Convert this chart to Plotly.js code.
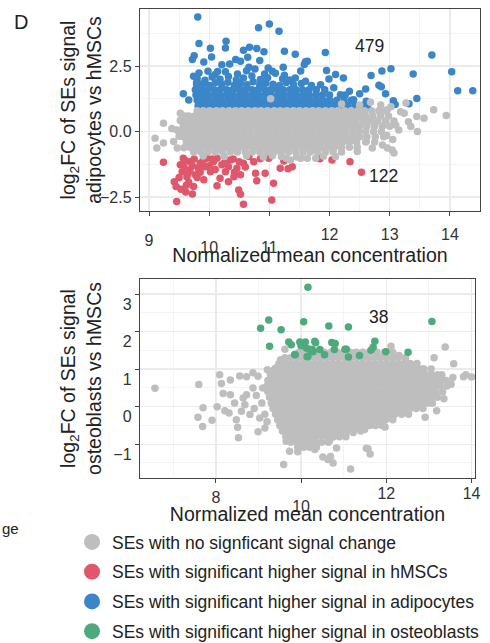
<!DOCTYPE html>
<html><head><meta charset="utf-8">
<script src="https://cdn.plot.ly/plotly-3.0.1.min.js"></script>
<style>html,body{margin:0;padding:0;background:#fff}#chart{width:490px;height:643px}</style>
</head><body><div id="chart"></div>
<script>
// ---------- Panel 1: adipocytes vs hMSCs (x = normalized mean concentration, y = log2FC) ----------
// dense rows: [y, x1, x2, ...]
const grayTopRows = [
 [0.8, 9.8,9.9,10.01,10.12,10.22,10.33,10.44,10.54,10.65,10.76,10.86,10.97,11.08,11.18,11.29,11.4,11.5,11.61,11.72,11.82,11.93,12.04,12.14,12.25,12.36,12.47,12.58,12.7,12.82,12.93],
 [0.6, 9.66,9.76,9.86,9.96,10.07,10.17,10.27,10.38,10.48,10.59,10.69,10.8,10.9,11.01,11.11,11.22,11.32,11.43,11.53,11.64,11.74,11.85,11.95,12.06,12.16,12.27,12.38,12.49,12.6,12.72,12.85,12.98],
 [0.4, 9.62,9.72,9.82,9.92,10.02,10.12,10.23,10.33,10.43,10.54,10.64,10.75,10.85,10.96,11.06,11.17,11.27,11.38,11.48,11.59,11.69,11.8,11.9,12.01,12.11,12.22,12.33,12.44,12.56,12.68,12.8,12.93,13.07],
 [0.2, 9.57,9.67,9.77,9.87,9.97,10.07,10.18,10.28,10.38,10.49,10.59,10.7,10.8,10.91,11.01,11.12,11.22,11.33,11.43,11.54,11.64,11.75,11.85,11.96,12.06,12.17,12.28,12.39,12.5,12.62,12.75,12.88,13.0],
 [0.0, 9.56,9.66,9.76,9.86,9.96,10.06,10.16,10.27,10.37,10.47,10.58,10.68,10.79,10.89,11.0,11.1,11.21,11.31,11.42,11.52,11.63,11.73,11.84,11.94,12.05,12.15,12.26,12.37,12.48,12.6,12.73,12.86],
 [-0.2, 9.57,9.67,9.77,9.87,9.97,10.08,10.18,10.28,10.39,10.49,10.6,10.7,10.81,10.91,11.02,11.12,11.23,11.33,11.44,11.54,11.65,11.75,11.86,11.96,12.07,12.17,12.28,12.39,12.5,12.62,12.76,12.9],
 [-0.4, 9.62,9.72,9.82,9.92,10.02,10.13,10.23,10.33,10.44,10.54,10.65,10.75,10.86,10.96,11.07,11.17,11.28,11.38,11.49,11.59,11.7,11.8,11.91,12.01,12.12,12.22,12.33,12.45,12.6,12.75],
 [-0.6, 9.68,9.78,9.88,9.98,10.08,10.19,10.29,10.39,10.5,10.6,10.71,10.81,10.92,11.02,11.13,11.23,11.34,11.44,11.55,11.65,11.76,11.86,11.97,12.08,12.2,12.33,12.46],
 [-0.78, 9.74,9.86,9.98,10.1,10.22,10.35,10.47,10.6,10.72,10.84,10.96,11.08,11.2,11.32,11.44,11.56,11.68,11.8,11.93,12.06,12.2]
];
const grayTopPts = [
 [9.1,-0.25],[9.13,-0.63],[9.24,-0.44],[9.24,0.32],[9.38,0.12],[9.41,-0.38],[9.46,0.06],[9.47,-0.63],[9.52,0.7],[9.5,-0.18],[9.52,0.42],[9.6,0.6],[9.58,-0.62],
 [11.02,1.25],[12.2,1.05],[12.5,1.02],[12.68,1.12],[12.85,1.02],[13.02,0.95],[13.18,0.76],[13.27,1.09],[13.24,0.7],[12.96,0.83],[13.1,0.25],[13.15,0.06],
 [13.31,0.38],[13.35,0.19],[13.46,0.0],[13.57,0.51],[13.73,0.83],[13.94,0.61],[13.45,0.58],[13.07,-0.82],[13.04,-0.7],[12.96,-0.63],[12.88,-0.51],[12.71,-0.63],
 [12.61,-0.38],[12.46,-0.76],[13.05,-0.3],[12.95,-0.15],
 [9.9,-0.93],[10.25,-0.95],[10.62,-0.92],[10.9,-0.97],[11.05,-0.92],[11.2,-0.95],[11.28,-1.02],[11.35,-1.08],[11.45,-0.97],[11.52,-1.02],[11.63,-1.02],[11.77,-1.02],[11.9,-0.94],[12.1,-0.95]
];
const blueRows = [
 [1.0, 9.82,9.92,10.03,10.14,10.24,10.35,10.46,10.56,10.67,10.78,10.88,10.99,11.1,11.2,11.31,11.42,11.52,11.63,11.74,11.84,11.95,12.06,12.17,12.3,12.42,12.55],
 [1.2, 9.8,9.9,10.0,10.11,10.21,10.32,10.42,10.53,10.63,10.74,10.84,10.95,11.05,11.16,11.26,11.37,11.47,11.58,11.68,11.79,11.89,12.0,12.12,12.24,12.36],
 [1.4, 9.78,9.88,9.98,10.09,10.19,10.3,10.4,10.51,10.61,10.72,10.82,10.93,11.03,11.14,11.24,11.35,11.45,11.56,11.66,11.77,11.88,12.0,12.26],
 [1.6, 9.77,9.87,9.97,10.08,10.18,10.29,10.39,10.5,10.6,10.71,10.81,10.92,11.02,11.13,11.23,11.34,11.44,11.55,11.66,11.78,11.92]
];
const bluePts = [
 [9.79,1.78],[9.9,1.84],[10.0,1.76],[10.1,1.86],[10.21,1.8],[10.31,1.88],[10.42,1.77],[10.52,1.83],[10.63,1.79],[10.73,1.9],[10.84,1.78],[10.94,1.85],
 [11.06,1.81],[11.17,1.76],[11.28,1.87],[11.4,1.8],[11.53,1.84],[11.7,1.76],
 [9.8,2.02],[9.93,1.96],[10.05,2.08],[10.18,2.0],[10.32,2.1],[10.45,1.98],[10.57,2.05],[10.71,2.12],[10.85,1.99],[10.97,2.06],[11.22,2.02],[11.34,1.97],
 [9.83,2.24],[9.98,2.3],[10.1,2.18],[10.27,2.28],[10.47,2.2],[10.62,2.32],[10.92,2.2],[11.05,2.3],[11.25,2.15],
 [9.81,4.37],[10.82,3.96],[11.0,4.11],[11.16,3.83],[9.83,3.36],[10.28,3.45],[10.27,3.19],[10.02,3.18],[9.75,2.9],[9.72,2.75],[10.04,2.85],[9.91,2.66],
 [10.57,3.11],[10.67,3.22],[10.79,3.17],[10.91,3.05],[10.44,2.75],[10.52,2.69],[10.64,2.84],[10.84,2.71],[11.25,3.07],[11.43,2.95],[11.6,2.67],[10.21,2.55],
 [10.34,2.58],[10.66,2.46],[10.76,2.39],[10.98,2.43],[11.23,2.46],[11.1,2.23],[10.14,2.29],[9.74,2.11],[9.79,1.86],[9.57,1.44],[9.66,1.21],[9.82,0.97],
 [11.43,2.05],[11.52,2.31],[11.6,1.92],[11.93,3.02],[11.63,2.69],[11.58,2.56],[11.95,2.33],[12.1,2.18],[12.23,2.05],[11.99,2.01],[12.69,2.14],[12.87,2.31],
 [13.02,2.4],[12.82,1.77],[12.86,1.71],[12.6,1.63],[12.93,1.44],[12.33,1.54],[12.5,1.44],[13.06,1.18],[13.09,1.03],[13.32,1.06],[13.45,1.26],[13.39,2.2],
 [13.7,2.92],[14.03,2.28],[14.13,1.56],[14.38,1.56],[12.07,1.67],[12.18,1.41],[11.85,1.79],[12.4,1.22],[12.61,1.16],[12.15,0.97],[12.63,0.95],[12.58,0.9]
];
const redPts = [
 [9.24,-1.17],[9.46,-2.67],[9.42,-1.91],[9.45,-2.1],[9.61,-2.31],[9.72,-2.38],[9.66,-1.93],[9.55,-1.53],[9.68,-1.46],[9.52,-1.27],[9.85,-1.21],[9.77,-1.65],
 [9.91,-1.84],[10.02,-1.53],[10.13,-2.07],[10.18,-1.78],[10.27,-1.53],[10.21,-1.27],[10.35,-1.08],[10.41,-1.72],[10.49,-2.23],[10.52,-2.39],[10.57,-2.77],
 [10.46,-1.4],[10.57,-1.21],[10.52,-1.65],[10.77,-1.59],[10.79,-1.88],[10.93,-1.59],[11.04,-2.61],[11.07,-1.97],[10.85,-1.04],[10.99,-1.02],[11.18,-1.4],
 [11.31,-1.42],[11.24,-1.12],[11.38,-1.34],[9.57,-1.02],[9.68,-1.15],[9.96,-1.02],[10.07,-1.15],[10.32,-1.34],[10.13,-1.02],[9.63,-1.72],[9.74,-2.1],
 [9.82,-1.4],[9.93,-1.34],[10.32,-1.91],[10.66,-0.95],[10.74,-1.15],[11.84,-1.04],[12.04,-1.08],[12.34,-1.15],[12.53,-1.55],
 [9.6,-1.1],[9.75,-1.05],[9.9,-1.1],[10.05,-1.05],[10.4,-1.05],[10.5,-1.15],[9.58,-1.35],[9.72,-1.3],[9.85,-1.55],[10.0,-1.3],[10.1,-1.45],[10.25,-1.2],
 [9.65,-1.6],[9.5,-1.75],[9.8,-1.75],[10.42,-1.55],[10.6,-1.35],[9.62,-2.05],[9.53,-2.2]
];

// ---------- Panel 2: osteoblasts vs hMSCs ----------
const grayBotRows = [
 [1.45, 9.95,10.1,10.25,10.4,10.55,10.7,10.85,11.0,11.15,11.3,11.45,11.6,11.78,11.95,12.15],
 [1.3, 9.62,9.76,9.9,10.04,10.18,10.32,10.46,10.6,10.74,10.88,11.02,11.16,11.3,11.44,11.58,11.72,11.86,12.0,12.14,12.28,12.45],
 [1.15, 9.48,9.62,9.76,9.9,10.04,10.18,10.32,10.46,10.6,10.74,10.88,11.02,11.16,11.3,11.44,11.58,11.72,11.86,12.0,12.14,12.28,12.42,12.56,12.72],
 [1.0, 9.38,9.52,9.66,9.8,9.94,10.08,10.22,10.36,10.5,10.64,10.78,10.92,11.06,11.2,11.34,11.48,11.62,11.76,11.9,12.04,12.18,12.32,12.46,12.6,12.74,12.88,13.05],
 [0.85, 9.28,9.42,9.56,9.7,9.84,9.98,10.12,10.26,10.4,10.54,10.68,10.82,10.96,11.1,11.24,11.38,11.52,11.66,11.8,11.94,12.08,12.22,12.36,12.5,12.64,12.78,12.92,13.06,13.2,13.3],
 [0.7, 9.22,9.36,9.5,9.64,9.78,9.92,10.06,10.2,10.34,10.48,10.62,10.76,10.9,11.04,11.18,11.32,11.46,11.6,11.74,11.88,12.02,12.16,12.3,12.44,12.58,12.72,12.86,13.0,13.14,13.28,13.4],
 [0.55, 9.2,9.34,9.48,9.62,9.76,9.9,10.04,10.18,10.32,10.46,10.6,10.74,10.88,11.02,11.16,11.3,11.44,11.58,11.72,11.86,12.0,12.14,12.28,12.42,12.56,12.7,12.84,12.98,13.12,13.26,13.42],
 [0.4, 9.22,9.36,9.5,9.64,9.78,9.92,10.06,10.2,10.34,10.48,10.62,10.76,10.9,11.04,11.18,11.32,11.46,11.6,11.74,11.88,12.02,12.16,12.3,12.44,12.58,12.72,12.86,13.0,13.15,13.32],
 [0.25, 9.26,9.4,9.54,9.68,9.82,9.96,10.1,10.24,10.38,10.52,10.66,10.8,10.94,11.08,11.22,11.36,11.5,11.64,11.78,11.92,12.06,12.2,12.34,12.48,12.62,12.76,12.9,13.05,13.2],
 [0.1, 9.3,9.44,9.58,9.72,9.86,10.0,10.14,10.28,10.42,10.56,10.7,10.84,10.98,11.12,11.26,11.4,11.54,11.68,11.82,11.96,12.1,12.24,12.38,12.52,12.66,12.8,12.95,13.08],
 [-0.05, 9.34,9.48,9.62,9.76,9.9,10.04,10.18,10.32,10.46,10.6,10.74,10.88,11.02,11.16,11.3,11.44,11.58,11.72,11.86,12.0,12.14,12.28,12.42,12.56,12.7,12.86],
 [-0.2, 9.4,9.54,9.68,9.82,9.96,10.1,10.24,10.38,10.52,10.66,10.8,10.94,11.08,11.22,11.36,11.5,11.64,11.78,11.92,12.06,12.2,12.36,12.52],
 [-0.35, 9.45,9.6,9.74,9.88,10.02,10.16,10.3,10.44,10.58,10.72,10.86,11.0,11.14,11.28,11.42,11.56,11.7,11.84,11.98,12.15],
 [-0.5, 9.5,9.64,9.78,9.92,10.06,10.2,10.34,10.48,10.62,10.76,10.9,11.04,11.18,11.32,11.46,11.6,11.75,11.9],
 [-0.65, 9.56,9.7,9.84,9.98,10.12,10.26,10.4,10.54,10.68,10.82,10.96,11.1,11.24,11.4],
 [-0.8, 9.64,9.78,9.92,10.06,10.2,10.34,10.48,10.62,10.76,10.9,11.05],
 [-0.95, 9.76,9.9,10.04,10.18,10.32,10.48,10.64],
 [-1.08, 9.92,10.06,10.2,10.36]
];
const grayBotPts = [
 [6.57,0.49],[7.6,0.59],[8.09,0.85],[8.13,0.62],[8.34,0.71],[8.56,0.82],[8.72,0.8],[8.87,0.9],[8.99,0.81],[8.17,0.35],[8.34,0.32],[8.44,0.1],
 [8.03,0.0],[7.7,-0.03],[7.58,-0.28],[7.69,-0.53],[7.91,-0.36],[8.21,-0.11],[8.31,-0.17],[8.48,-0.35],[8.51,-0.55],[8.53,-0.83],[8.6,-0.12],[8.68,0.05],
 [8.8,-0.21],[8.99,-0.67],[9.15,-0.57],[9.03,-0.3],[9.21,0.98],[9.38,0.76],[9.3,0.59],[8.87,0.5],[8.72,0.32],[8.64,0.23],[9.59,-1.54],[9.73,-1.19],
 [9.92,-1.2],[9.65,-0.92],[9.62,1.53],[9.52,1.25],[9.41,1.03],[8.95,0.3],[9.08,0.1],[9.1,0.5],[8.9,-0.05],[9.15,-0.2],[9.2,-0.4],
 [13.38,1.59],[13.58,1.14],[13.81,0.8],[14.0,0.79],[13.87,0.85],[13.56,0.78],[13.52,0.6],[13.35,0.21],[13.18,-0.11],[12.91,-0.28],[13.12,1.3],
 [12.11,1.61],[12.3,1.36],[12.66,1.1],[12.93,0.76],[11.97,-0.54],[11.7,-0.48],[11.57,-1.12],[11.62,-1.26],[11.16,-1.66],[10.83,-1.1],[10.75,-1.5],
 [10.63,-1.41],[10.51,-1.34],[10.32,-1.14],[11.49,-0.61],[11.22,-0.69],[10.94,-0.69],[10.67,-0.9],[11.26,1.43],[10.69,-1.33],[11.53,-1.11],[12.85,1.0],[13.05,0.1]
];
const greenPts = [
 [10.16,3.18],[9.24,2.31],[9.05,2.09],[9.53,2.05],[10.06,2.26],[9.26,1.61],[9.71,1.72],[9.77,1.65],[9.97,1.72],[10.1,1.72],[9.86,1.38],[10.12,1.56],
 [10.65,2.15],[11.11,2.12],[13.07,2.27],[10.32,1.74],[10.26,1.52],[10.16,1.34],[10.72,1.71],[10.8,1.68],[10.78,1.52],[11.03,1.53],[11.11,1.32],
 [11.37,1.36],[11.73,1.74],[11.69,1.58],[11.64,1.5],[11.99,1.46],[12.51,1.45],[10.44,1.52],[10.55,1.38],[10.2,1.53],[10.28,1.46],[10.34,1.7],[11.06,1.53],
 [10.14,1.33],[9.85,1.39],[10.0,1.62]
];

// tick values / labels
const topXTicks = [9,10,11,12,13,14];
const topXLabelGroups = [[12,13,14],[9],[10,11]];   // the source figure draws these groups at slightly different heights
const botXTicks = [8,10,12,14];
const botXLabelGroups = [[12,14],[8],[10]];

const legendLabels = ['SEs with no signficant signal change','SEs with significant higher signal in hMSCs','SEs with significant higher signal in adipocytes','SEs with significant higher signal in osteoblasts'];
const yTitles = ['log<sub>2</sub>FC of SEs signal<br>adipocytes vs hMSCs','log<sub>2</sub>FC of SEs signal<br>osteoblasts vs hMSCs'];
const xTitle = 'Normalized mean concentration';
const colors = {gray:'#BEBEBE', red:'#E0566A', blue:'#3B86C8', green:'#4DAA7D'};
const countLabels = {adipo:'479', hmsc:'122', osteo:'38'};

function fromRows(rows){const x=[],y=[];rows.forEach(r=>{for(let i=1;i<r.length;i++){x.push(r[i]);y.push(r[0]);}});return {x,y};}
function fromPairs(p){return {x:p.map(d=>d[0]),y:p.map(d=>d[1])};}
function merge(a,b){return {x:a.x.concat(b.x),y:a.y.concat(b.y)};}

const g1 = merge(fromRows(grayTopRows), fromPairs(grayTopPts));
const b1 = merge(fromRows(blueRows), fromPairs(bluePts));
const r1 = fromPairs(redPts);
const g2 = merge(fromRows(grayBotRows), fromPairs(grayBotPts));
const gr2 = fromPairs(greenPts);

const MS = 7.5;
function pts(d,color,xa,ya){return {type:'scatter',mode:'markers',x:d.x,y:d.y,xaxis:xa,yaxis:ya,showlegend:false,hoverinfo:'skip',marker:{size:MS,color:color,line:{width:0}}};}
function leg(label,color,rank){return {type:'scatter',mode:'markers',x:[null],y:[null],xaxis:'x2',yaxis:'y2',name:label,legendgroup:label,legendrank:rank,showlegend:true,marker:{size:16,color:color}};}
function holder(xa,ya){return {type:'scatter',mode:'markers',x:[null],y:[null],xaxis:xa,yaxis:ya,showlegend:false,hoverinfo:'skip'};}

const data = [
 pts(r1,colors.red,'x','y'), pts(b1,colors.blue,'x','y'), pts(g1,colors.gray,'x','y'),
 pts(g2,colors.gray,'x2','y2'), pts(gr2,colors.green,'x2','y2'),
 leg(legendLabels[0],colors.gray,1), leg(legendLabels[1],colors.red,2), leg(legendLabels[2],colors.blue,3), leg(legendLabels[3],colors.green,4),
 holder('x3','y'), holder('x4','y'), holder('x5','y'), holder('x6','y2'), holder('x7','y2'), holder('x8','y2'),
 holder('x','y3'), holder('x2','y4')
];

const FONT = 'Liberation Sans, Arial, Helvetica, sans-serif';
const TXT = '#222222';
const TICKFONT = {family:FONT,size:16,color:'#333333'};
const TITLEFONT = {family:FONT,size:19.5,color:TXT};
function ax(extra){return Object.assign({showline:true,mirror:true,linecolor:'#444444',linewidth:1.2,ticks:'outside',ticklen:4,tickwidth:1,tickcolor:'#444444',
  showgrid:true,gridcolor:'#EBEBEB',gridwidth:1.3,zeroline:false,tickfont:TICKFONT},extra);}
function labelAxis(over, anchor, range, vals, standoff){
  return {overlaying:over,anchor:anchor,range:range,tickmode:'array',tickvals:vals,ticktext:vals.map(String),showgrid:false,showline:false,zeroline:false,
    ticks:'outside',ticklen:4,tickcolor:'rgba(0,0,0,0)',tickfont:TICKFONT,ticklabelstandoff:standoff};
}
function titleAxis(over, anchor, range, text, standoff){
  return {overlaying:over,anchor:anchor,range:range,side:'left',showgrid:false,showline:false,zeroline:false,showticklabels:false,ticks:'',
    title:{text:text,font:TITLEFONT,standoff:standoff}};
}
const rTopX = [8.85,14.5], rBotX = [6.22,14.08], rTopY = [-3.03,4.68], rBotY = [-1.9,3.4];

const layout = {
 width:490,height:643,margin:{l:0,r:0,t:0,b:0,autoexpand:false},paper_bgcolor:'#fff',plot_bgcolor:'#fff',
 font:{family:FONT,color:TXT},
 xaxis: ax({domain:[0.2857,0.9796],anchor:'y',range:rTopX,tickmode:'array',tickvals:topXTicks,showticklabels:false,
   minor:{showgrid:true,gridcolor:'#F1F1F1',gridwidth:0.8,dtick:0.5,tick0:0},
   title:{text:xTitle,font:TITLEFONT,standoff:33}}),
 xaxis3: labelAxis('x','y',rTopX,topXLabelGroups[0],5),
 xaxis4: labelAxis('x','y',rTopX,topXLabelGroups[1],11),
 xaxis5: labelAxis('x','y',rTopX,topXLabelGroups[2],18),
 yaxis: ax({domain:[0.6719,0.986],anchor:'x',range:rTopY,tickmode:'linear',tick0:0,dtick:2.5,tickformat:'.1f',
   minor:{showgrid:true,gridcolor:'#F1F1F1',gridwidth:0.8,dtick:1.25}}),
 yaxis3: titleAxis('y','x',rTopY,yTitles[0],32),
 xaxis2: ax({domain:[0.2857,0.9694],anchor:'y2',range:rBotX,tickmode:'array',tickvals:botXTicks,showticklabels:false,
   minor:{showgrid:true,gridcolor:'#F1F1F1',gridwidth:0.8,dtick:1,tick0:0},
   title:{text:xTitle,font:TITLEFONT,standoff:25}}),
 xaxis6: labelAxis('x2','y2',rBotX,botXLabelGroups[0],-3),
 xaxis7: labelAxis('x2','y2',rBotX,botXLabelGroups[1],1),
 xaxis8: labelAxis('x2','y2',rBotX,botXLabelGroups[2],10),
 yaxis2: ax({domain:[0.2566,0.5661],anchor:'x2',range:rBotY,tickmode:'linear',tick0:0,dtick:1,ticklabelshift:10,
   minor:{showgrid:true,gridcolor:'#F1F1F1',gridwidth:0.8,dtick:0.5}}),
 yaxis4: titleAxis('y2','x2',rBotY,yTitles[1],32),
 legend:{x:0.147,xanchor:'left',y:0.185,yanchor:'top',font:{family:FONT,size:17.5,color:TXT},bgcolor:'rgba(0,0,0,0)',tracegroupgap:4,itemsizing:'trace'},
 annotations:[
  {xref:'x',yref:'y',x:12.67,y:3.26,text:countLabels.adipo,showarrow:false,font:{family:FONT,size:17.5,color:TXT}},
  {xref:'x',yref:'y',x:12.9,y:-1.68,text:countLabels.hmsc,showarrow:false,font:{family:FONT,size:17.5,color:TXT}},
  {xref:'x2',yref:'y2',x:11.82,y:2.4,text:countLabels.osteo,showarrow:false,font:{family:FONT,size:17.5,color:TXT}},
  {xref:'paper',yref:'paper',x:0.0429,y:0.9658,xanchor:'center',yanchor:'middle',text:'D',showarrow:false,font:{family:FONT,size:20,color:TXT}},
  {xref:'paper',yref:'paper',x:0,xanchor:'left',y:0.1788,yanchor:'middle',text:'ge',showarrow:false,font:{family:FONT,size:15,color:TXT}}
 ]
};
Plotly.newPlot('chart',data,layout,{displayModeBar:false,staticPlot:true});
</script></body></html>
